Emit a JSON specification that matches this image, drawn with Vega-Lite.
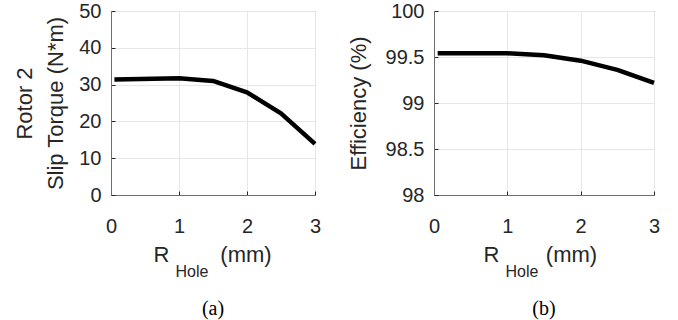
{
  "$schema": "https://vega.github.io/schema/vega-lite/v6.json",
  "padding": {"left": 13, "top": 0, "right": 4, "bottom": 0},
  "data": {
    "values": [
      {"r": 0.05, "torque": 31.4, "efficiency": 99.54},
      {"r": 1.0, "torque": 31.7, "efficiency": 99.54},
      {"r": 1.5, "torque": 31.0, "efficiency": 99.52},
      {"r": 2.0, "torque": 27.9, "efficiency": 99.46},
      {"r": 2.5, "torque": 22.2, "efficiency": 99.36},
      {"r": 3.0, "torque": 13.9, "efficiency": 99.22}
    ]
  },
  "spacing": 24,
  "hconcat": [
    {
      "width": 204,
      "height": 184,
      "title": {"text": "(a)", "orient": "bottom", "frame": "group", "anchor": "middle", "font": "Liberation Serif", "fontSize": 20, "fontWeight": "normal", "color": "#000000", "offset": 20},
      "layer": [
        {
          "mark": {"type": "line", "color": "#000000", "strokeWidth": 4.5, "strokeCap": "butt", "strokeJoin": "round"},
          "encoding": {
            "x": {"field": "r", "type": "quantitative", "scale": {"domain": [0, 3], "nice": false},
              "axis": {"values": [0, 1, 2, 3], "title": "R", "titleX": 50, "titleY": 66, "titleAlign": "center", "titleBaseline": "alphabetic", "titleAngle": 0}},
            "y": {"field": "torque", "type": "quantitative", "scale": {"domain": [0, 50], "nice": false},
              "axis": {"values": [0, 10, 20, 30, 40, 50], "title": ["Rotor 2", "Slip Torque (N*m)"], "titleLineHeight": 31, "labelPadding": 14, "titlePadding": 11}}
          }
        },
        {
          "mark": {"type": "point", "opacity": 0},
          "encoding": {
            "x": {"field": "r", "type": "quantitative",
              "axis": {"orient": "bottom", "title": "Hole", "titleFontSize": 16, "labels": false, "ticks": false, "domain": false, "grid": false, "titleX": 80.5, "titleY": 81, "titleAlign": "center", "titleBaseline": "alphabetic", "titleAngle": 0}}
          }
        },
        {
          "mark": {"type": "point", "opacity": 0},
          "encoding": {
            "x": {"field": "r", "type": "quantitative",
              "axis": {"orient": "bottom", "title": "(mm)", "labels": false, "ticks": false, "domain": false, "grid": false, "titleX": 134.5, "titleY": 66, "titleAlign": "center", "titleBaseline": "alphabetic", "titleAngle": 0}}
          }
        }
      ],
      "resolve": {"axis": {"x": "independent"}}
    },
    {
      "width": 220,
      "height": 184,
      "title": {"text": "(b)", "orient": "bottom", "frame": "group", "anchor": "middle", "font": "Liberation Serif", "fontSize": 20, "fontWeight": "normal", "color": "#000000", "offset": 20},
      "layer": [
        {
          "mark": {"type": "line", "color": "#000000", "strokeWidth": 4.5, "strokeCap": "butt", "strokeJoin": "round"},
          "encoding": {
            "x": {"field": "r", "type": "quantitative", "scale": {"domain": [0, 3], "nice": false},
              "axis": {"values": [0, 1, 2, 3], "title": "R", "titleX": 57, "titleY": 66, "titleAlign": "center", "titleBaseline": "alphabetic", "titleAngle": 0}},
            "y": {"field": "efficiency", "type": "quantitative", "scale": {"domain": [98, 100], "nice": false, "zero": false},
              "axis": {"values": [98, 98.5, 99, 99.5, 100], "format": "~g", "title": "Efficiency (%)", "labelPadding": 14, "titlePadding": 15}}
          }
        },
        {
          "mark": {"type": "point", "opacity": 0},
          "encoding": {
            "x": {"field": "r", "type": "quantitative",
              "axis": {"orient": "bottom", "title": "Hole", "titleFontSize": 16, "labels": false, "ticks": false, "domain": false, "grid": false, "titleX": 87.5, "titleY": 81, "titleAlign": "center", "titleBaseline": "alphabetic", "titleAngle": 0}}
          }
        },
        {
          "mark": {"type": "point", "opacity": 0},
          "encoding": {
            "x": {"field": "r", "type": "quantitative",
              "axis": {"orient": "bottom", "title": "(mm)", "labels": false, "ticks": false, "domain": false, "grid": false, "titleX": 137, "titleY": 66, "titleAlign": "center", "titleBaseline": "alphabetic", "titleAngle": 0}}
          }
        }
      ],
      "resolve": {"axis": {"x": "independent"}}
    }
  ],
  "config": {
    "background": "#ffffff",
    "view": {"stroke": "#6e6e6e", "strokeWidth": 1},
    "axis": {
      "labelFont": "Liberation Sans",
      "labelFontSize": 20,
      "labelColor": "#262626",
      "labelFlush": false,
      "labelOverlap": false,
      "labelPadding": 25,
      "titleFont": "Liberation Sans",
      "titleFontSize": 22,
      "titleFontWeight": "normal",
      "titleColor": "#262626",
      "domainColor": "#6e6e6e",
      "tickColor": "#262626",
      "tickSize": -4,
      "gridColor": "#e6e6e6",
      "gridWidth": 1
    }
  }
}
